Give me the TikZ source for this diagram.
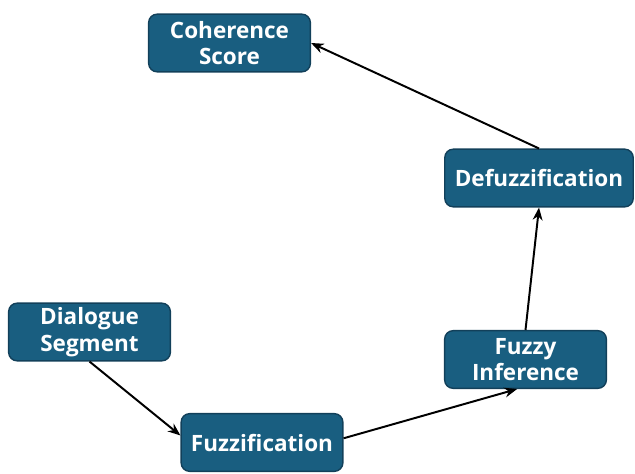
\documentclass[tikz,border=0pt]{standalone}
\usepackage{fontspec}
\setmainfont{Open Sans}
\usetikzlibrary{arrows.meta,positioning}
\definecolor{stagefill}{HTML}{195E80}
\definecolor{stageline}{HTML}{12405A}
\tikzset{
	stage/.style={draw=stageline,fill=stagefill,line width=1pt,rounded corners=6pt,
		minimum width=115pt,minimum height=41pt,align=center,text=white,
		font=\bfseries\fontsize{16}{19}\selectfont,inner sep=2pt},
	flow/.style={-{Stealth[length=9pt,width=7pt]},line width=1.4pt,black}
}
\begin{document}
\begin{tikzpicture}[x=0.025cm,y=-0.025cm]
			\useasboundingbox (0,0) rectangle (635,473);
			\node[stage] (score) at (229.5,43) {Coherence\\Score};
			\node[stage,minimum width=134pt] (defuzz) at (539,178) {Defuzzification};
			\node[stage] (seg) at (89.5,332) {Dialogue\\Segment};
			\node[stage] (fuzz) at (262,442.5) {Fuzzification};
			\node[stage] (inf) at (525.5,359.5) {Fuzzy\\Inference};
			
			\draw[flow] (seg.south) -- ([yshift=5pt]fuzz.west);
			\draw[flow] ([yshift=3pt]fuzz.east) -- ([xshift=-6pt]inf.south);
			\draw[flow] (inf.north) -- (defuzz.south);
			\draw[flow] (defuzz.north) -- (score.east);
		\end{tikzpicture}
\end{document}
